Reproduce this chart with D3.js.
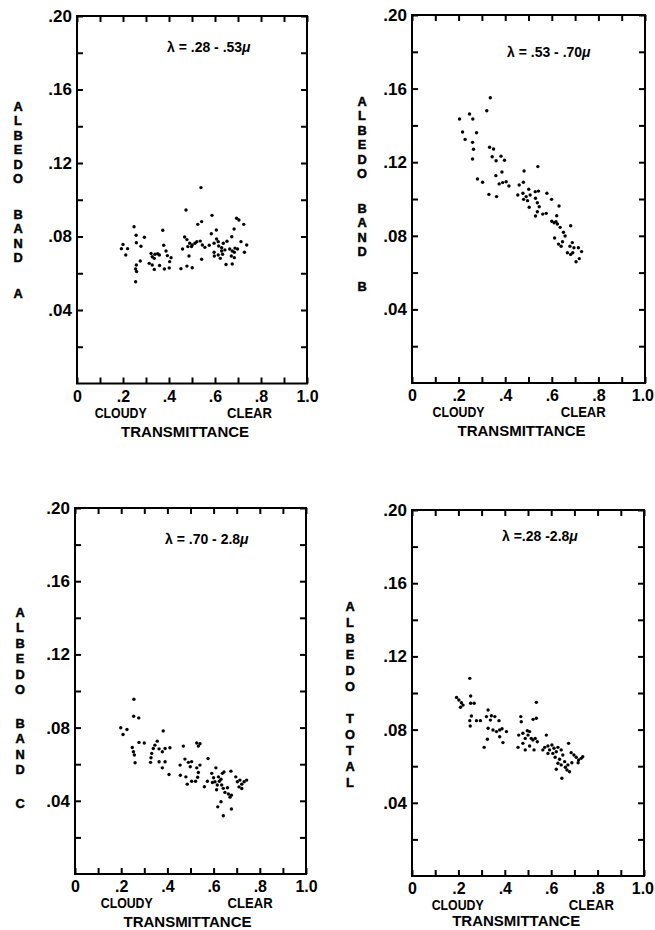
<!DOCTYPE html>
<html>
<head>
<meta charset="utf-8">
<script src="https://cdn.jsdelivr.net/npm/d3@7"></script>
<style>
  html, body { margin: 0; padding: 0; background: #fff; }
  svg { display: block; }
  text { font-family: "Liberation Sans", Arial, sans-serif; font-weight: bold; fill: #000; }
</style>
</head>
<body>
<svg id="chart" width="655" height="930"></svg>
<script>
// ---- Observations: transmittance (x) vs. albedo (y) for each spectral band ----
const bandA_transmittance = [0.539,0.474,0.587,0.542,0.525,0.694,0.704,0.725,0.248,0.373,0.683,0.606,0.257,0.293,0.468,0.478,0.673,0.584,0.258,0.278,0.200,0.193,0.220,0.212,0.377,0.387,0.490,0.501,0.513,0.521,0.536,0.545,0.556,0.498,0.482,0.459,0.575,0.596,0.607,0.614,0.616,0.636,0.652,0.629,0.643,0.596,0.597,0.614,0.623,0.629,0.633,0.664,0.675,0.687,0.684,0.698,0.713,0.738,0.728,0.671,0.684,0.322,0.327,0.339,0.351,0.358,0.336,0.393,0.403,0.409,0.487,0.542,0.275,0.258,0.255,0.259,0.314,0.327,0.336,0.359,0.380,0.401,0.452,0.478,0.501,0.648,0.675,0.255];
const bandA_albedo = [0.1066,0.0944,0.0915,0.0881,0.0866,0.0899,0.0890,0.0866,0.0853,0.0834,0.0841,0.0835,0.0807,0.0796,0.0797,0.0783,0.0799,0.0815,0.0766,0.0747,0.0757,0.0734,0.0734,0.0699,0.0752,0.0721,0.0763,0.0754,0.0763,0.0772,0.0775,0.0754,0.0741,0.0745,0.0745,0.0732,0.0752,0.0763,0.0786,0.0772,0.0748,0.0763,0.0774,0.0739,0.0727,0.0714,0.0694,0.0699,0.0681,0.0721,0.0703,0.0732,0.0721,0.0737,0.0714,0.0732,0.0772,0.0754,0.0714,0.0694,0.0685,0.0708,0.0690,0.0703,0.0706,0.0699,0.0681,0.0696,0.0663,0.0685,0.0694,0.0676,0.0667,0.0645,0.0623,0.0609,0.0654,0.0645,0.0621,0.0642,0.0623,0.0629,0.0625,0.0639,0.0630,0.0648,0.0650,0.0554];

const bandB_transmittance = [0.336,0.321,0.204,0.247,0.261,0.217,0.277,0.228,0.260,0.264,0.260,0.333,0.350,0.344,0.361,0.382,0.397,0.386,0.360,0.281,0.303,0.374,0.389,0.404,0.416,0.330,0.363,0.481,0.540,0.478,0.460,0.454,0.476,0.490,0.501,0.496,0.479,0.507,0.503,0.529,0.543,0.530,0.538,0.546,0.538,0.530,0.561,0.576,0.579,0.599,0.631,0.621,0.600,0.610,0.618,0.624,0.636,0.681,0.650,0.657,0.646,0.612,0.629,0.640,0.688,0.678,0.695,0.667,0.681,0.690,0.714,0.728,0.718,0.704];
const bandB_albedo = [0.155,0.148,0.1435,0.1462,0.1435,0.1364,0.1360,0.1324,0.1308,0.1270,0.1217,0.1281,0.1272,0.1230,0.1208,0.1233,0.1211,0.1147,0.1127,0.1109,0.1091,0.1082,0.1089,0.1094,0.1071,0.1025,0.1013,0.1152,0.1176,0.1091,0.1076,0.1022,0.1031,0.1013,0.1053,0.0991,0.0998,0.1022,0.0955,0.1040,0.1043,0.1004,0.0980,0.0958,0.0931,0.0908,0.0918,0.0922,0.1031,0.0998,0.0962,0.0909,0.0879,0.0871,0.0877,0.0864,0.0846,0.0855,0.0819,0.0799,0.0768,0.0788,0.0755,0.0743,0.0763,0.0743,0.0735,0.0708,0.0699,0.0708,0.0735,0.0714,0.0676,0.0659];

const bandC_transmittance = [0.255,0.254,0.276,0.198,0.225,0.208,0.382,0.277,0.300,0.248,0.253,0.257,0.260,0.346,0.356,0.339,0.332,0.329,0.327,0.364,0.378,0.390,0.411,0.364,0.390,0.378,0.407,0.469,0.527,0.534,0.541,0.476,0.491,0.499,0.505,0.455,0.456,0.480,0.486,0.505,0.522,0.527,0.534,0.531,0.541,0.576,0.560,0.573,0.592,0.600,0.595,0.606,0.616,0.610,0.632,0.638,0.645,0.621,0.625,0.635,0.642,0.649,0.664,0.671,0.677,0.660,0.613,0.632,0.618,0.642,0.677,0.675,0.696,0.703,0.714,0.722,0.732,0.743,0.710,0.722];
const bandC_albedo = [0.0955,0.0862,0.0853,0.0799,0.0790,0.0762,0.0782,0.0719,0.0716,0.0691,0.0668,0.0650,0.0608,0.0704,0.0726,0.0686,0.0659,0.0635,0.0610,0.0684,0.0668,0.0686,0.0690,0.0613,0.0613,0.0580,0.0544,0.0699,0.0716,0.0699,0.0712,0.0628,0.0610,0.0586,0.0614,0.0595,0.0540,0.0531,0.0491,0.0507,0.0507,0.0580,0.0555,0.0529,0.0595,0.0631,0.0477,0.0507,0.0550,0.0526,0.0500,0.0504,0.0486,0.0580,0.0518,0.0550,0.0558,0.0531,0.0507,0.0486,0.0468,0.0446,0.0437,0.0420,0.0431,0.0471,0.0460,0.0395,0.0367,0.0318,0.0355,0.0562,0.0531,0.0504,0.0513,0.0491,0.0504,0.0513,0.0476,0.0467];

const total_transmittance = [0.249,0.192,0.202,0.213,0.220,0.209,0.253,0.253,0.268,0.256,0.249,0.251,0.278,0.295,0.328,0.321,0.338,0.342,0.357,0.375,0.328,0.349,0.364,0.378,0.388,0.407,0.378,0.325,0.311,0.392,0.469,0.471,0.536,0.522,0.536,0.460,0.478,0.497,0.507,0.500,0.488,0.478,0.457,0.488,0.507,0.526,0.521,0.531,0.540,0.514,0.579,0.564,0.572,0.586,0.593,0.603,0.612,0.622,0.607,0.629,0.586,0.617,0.643,0.650,0.675,0.636,0.629,0.622,0.643,0.658,0.661,0.668,0.679,0.672,0.646,0.686,0.698,0.708,0.718,0.729,0.736,0.716,0.689];
const total_albedo = [0.1080,0.0976,0.0962,0.0947,0.0934,0.0922,0.0984,0.0944,0.0944,0.0874,0.0849,0.0820,0.0849,0.0849,0.0907,0.0871,0.0852,0.0876,0.0871,0.0849,0.0807,0.0798,0.0789,0.0798,0.0805,0.0789,0.0761,0.0747,0.0703,0.0729,0.0871,0.0843,0.0949,0.0856,0.0862,0.0770,0.0780,0.0794,0.0789,0.0770,0.0752,0.0725,0.0703,0.0689,0.0710,0.0689,0.0743,0.0752,0.0734,0.0752,0.0770,0.0689,0.0703,0.0710,0.0689,0.0716,0.0698,0.0679,0.0670,0.0703,0.0670,0.0649,0.0689,0.0661,0.0725,0.0638,0.0616,0.0583,0.0607,0.0625,0.0594,0.0579,0.0570,0.0607,0.0534,0.0674,0.0661,0.0649,0.0634,0.0643,0.0652,0.0619,0.0619];

// ---- Axis ticks ----
const albedoTickValues = [0.02,0.04,0.06,0.08,0.10,0.12,0.14,0.16,0.18,0.20];
const albedoTickLabels = {0.04:".04", 0.08:".08", 0.12:".12", 0.16:".16", 0.20:".20"};
const transTickValues = [0,0.1,0.2,0.3,0.4,0.5,0.6,0.7,0.8,0.9,1.0];
const transTickLabels = {0:"0", 0.2:".2", 0.4:".4", 0.6:".6", 0.8:".8", 1:"1.0"};

// ---- Panel text ----
const panelTitles = ["ALBEDO BAND A", "ALBEDO BAND B", "ALBEDO BAND C", "ALBEDO TOTAL"];
const bandRanges = ["λ = .28 - .53", "λ = .53 - .70", "λ = .70 - 2.8", "λ =.28 -2.8"];

// ---- Layout of the four panels ----
const layout = [
  {frame:{x:77,  y:16,  w:230, h:367.5}, titleX:18,  titleY:106, pitch:14.5, gap:21, bandX:167, bandY:52,  cloudyT:0.19, clearT:0.75, transT:0.47, transDy:53},
  {frame:{x:412, y:15,  w:233, h:368},   titleX:362, titleY:101, pitch:14.5, gap:20, bandX:507, bandY:57,  cloudyT:0.20, clearT:0.735, transT:0.47, transDy:53},
  {frame:{x:75,  y:508, w:231, h:366},   titleX:20,  titleY:612, pitch:15.5, gap:18, bandX:165, bandY:544, cloudyT:0.224, clearT:0.758, transT:0.487, transDy:53},
  {frame:{x:412, y:510, w:232, h:366},   titleX:350, titleY:606, pitch:16,   gap:16, bandX:502, bandY:541, cloudyT:0.197, clearT:0.773, transT:0.449, transDy:50}
];
const series = [
  [bandA_transmittance, bandA_albedo],
  [bandB_transmittance, bandB_albedo],
  [bandC_transmittance, bandC_albedo],
  [total_transmittance, total_albedo]
];

const W = 655;
const svg = d3.select("#chart");
const tick = 6;

layout.forEach((L, i) => {
  const f = L.frame;
  const x = d3.scaleLinear().domain([0, 1]).range([f.x, f.x + f.w]);
  const y = d3.scaleLinear().domain([0, 0.2]).range([f.y + f.h, f.y]);
  const g = svg.append("g");

  // inward ticks on all four sides
  const key = v => Math.round(v * 100) / 100;
  const left = g.append("g").attr("transform", `translate(${f.x},0)`)
    .call(d3.axisLeft(y).tickValues(albedoTickValues).tickSizeInner(-tick).tickSizeOuter(0).tickPadding(5)
      .tickFormat(v => albedoTickLabels[key(v)] || ""));
  left.selectAll(".tick text").style("font-size", "17px");
  g.append("g").attr("transform", `translate(${f.x + f.w},0)`)
    .call(d3.axisRight(y).tickValues(albedoTickValues).tickSizeInner(-tick).tickSizeOuter(0).tickFormat(""));
  const bottom = g.append("g").attr("transform", `translate(0,${f.y + f.h})`)
    .call(d3.axisBottom(x).tickValues(transTickValues).tickSizeInner(-tick).tickSizeOuter(0).tickPadding(7)
      .tickFormat(v => { const k = Math.round(v * 10) / 10; return transTickLabels[k] !== undefined ? transTickLabels[k] : ""; }));
  bottom.selectAll(".tick text").style("font-size", "16px");
  g.append("g").attr("transform", `translate(0,${f.y})`)
    .call(d3.axisTop(x).tickValues(transTickValues).tickSizeInner(-tick).tickSizeOuter(0).tickFormat(""));

  g.selectAll(".domain").remove();
  g.selectAll(".tick line").attr("stroke", "#000").attr("stroke-width", 2);
  g.selectAll(".tick text").attr("fill", "#000");

  // keep the last x label inside the page edge
  bottom.selectAll(".tick text").each(function () {
    const tx = this.parentNode.transform.baseVal.consolidate().matrix.e;
    const half = this.getComputedTextLength() / 2;
    if (tx + half > W - 1) d3.select(this).attr("x", (W - 1) - half - tx);
  });

  // plot frame
  g.append("rect")
    .attr("x", f.x).attr("y", f.y).attr("width", f.w).attr("height", f.h)
    .attr("fill", "none").attr("stroke", "#000").attr("stroke-width", 2);

  // observations
  const [xs, ys] = series[i];
  g.append("g").selectAll("circle")
    .data(d3.range(xs.length))
    .join("circle")
    .attr("cx", j => x(xs[j]))
    .attr("cy", j => y(ys[j]))
    .attr("r", 1.7)
    .attr("fill", "#000");

  // spectral range label
  const band = g.append("text")
    .attr("x", L.bandX).attr("y", L.bandY)
    .style("font-size", "14px");
  band.append("tspan").text(bandRanges[i]);
  band.append("tspan").text("μ").style("font-style", "italic");

  // vertical stacked y-axis title, one letter per row
  const titleText = g.append("text")
    .attr("text-anchor", "middle")
    .attr("stroke", "#000").attr("stroke-width", 0.45)
    .style("font-size", "12.8px");
  let yy = L.titleY;
  const title = panelTitles[i];
  for (let c = 0; c < title.length; c++) {
    const ch = title[c];
    if (ch === " ") { yy += L.gap; continue; }
    titleText.append("tspan")
      .attr("x", L.titleX).attr("y", yy + 4.6)
      .text(ch);
    yy += L.pitch;
  }

  // x-axis annotations
  const base = f.y + f.h;
  g.append("text").attr("x", x(L.cloudyT)).attr("y", base + 34)
    .attr("text-anchor", "middle").style("font-size", "14px")
    .attr("textLength", 52).attr("lengthAdjust", "spacingAndGlyphs").text("CLOUDY");
  g.append("text").attr("x", x(L.clearT)).attr("y", base + 34)
    .attr("text-anchor", "middle").style("font-size", "14px")
    .attr("textLength", 45).attr("lengthAdjust", "spacingAndGlyphs").text("CLEAR");
  g.append("text").attr("x", x(L.transT)).attr("y", base + L.transDy)
    .attr("text-anchor", "middle").style("font-size", "15px")
    .attr("textLength", 128).attr("lengthAdjust", "spacingAndGlyphs").text("TRANSMITTANCE");
});
</script>
</body>
</html>
